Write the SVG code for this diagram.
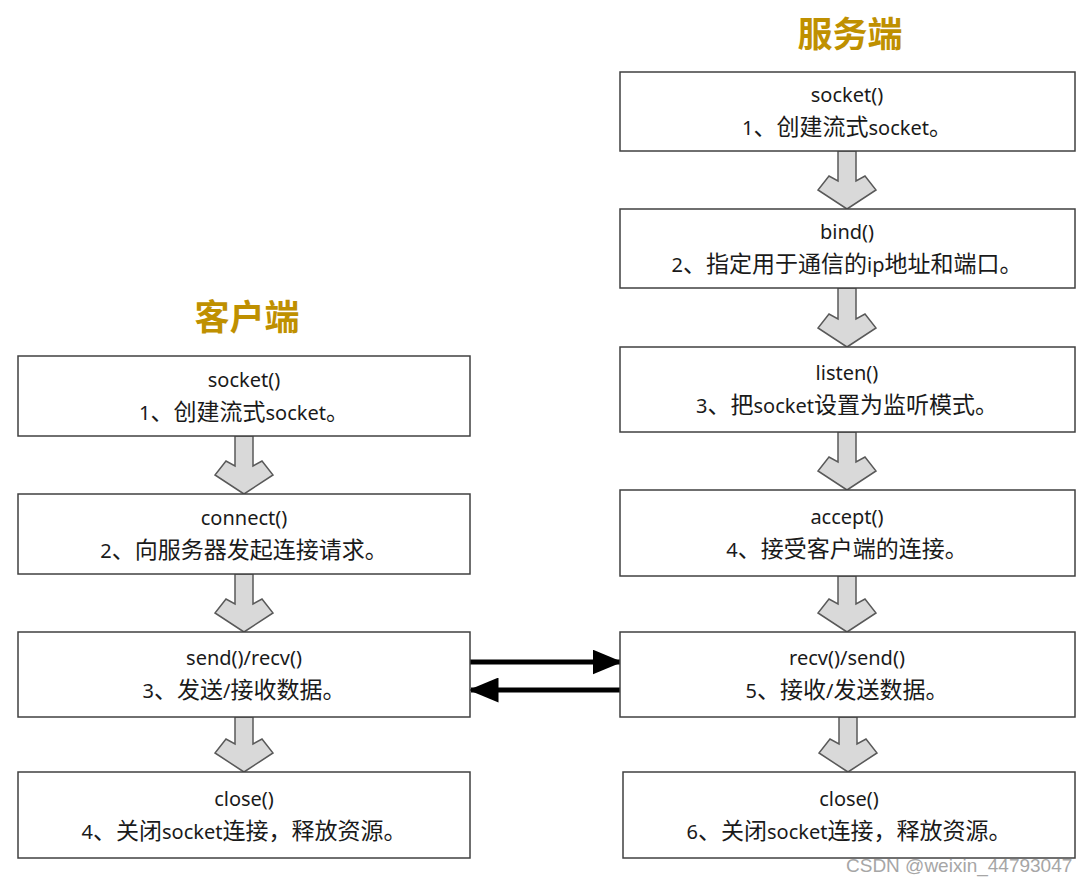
<svg xmlns="http://www.w3.org/2000/svg" width="1092" height="885" viewBox="0 0 1092 885">
<style>
.box{fill:#fff;stroke:#404040;stroke-width:1.5}
.t{font-family:"Noto Sans","Noto Sans CJK SC",sans-serif;font-size:20px;fill:#1a1a1a;text-anchor:middle}
.c{font-family:"Noto Sans CJK SC",sans-serif;font-size:23px}
.h{font-family:"Noto Sans CJK SC",sans-serif;font-size:35px;font-weight:bold;fill:#bf9000;text-anchor:middle}
.ba{fill:#d9d9d9;stroke:#595959;stroke-width:1.5;stroke-linejoin:miter}
.wm{font-family:"Liberation Sans",Arial,sans-serif;font-size:19px;fill:#a6a6a6}
</style>
<defs>
<marker id="ah" markerWidth="6" markerHeight="5" refX="5.5" refY="2.5" orient="auto" markerUnits="strokeWidth"><path d="M0,0 L6,2.5 L0,5 Z" fill="#000"/></marker>
</defs>
<rect width="1092" height="885" fill="#fff"/>
<text class="h" x="850" y="47">服务端</text>
<text class="h" x="247" y="330">客户端</text>

<g id="connectors">
<path class="ba" d="M235,436 L253,436 L253,466 L262,461 L273,475 L244,494 L215,475 L226,461 L235,466 Z"/>
<path class="ba" d="M235,574 L253,574 L253,604 L262,599 L273,613 L244,632 L215,613 L226,599 L235,604 Z"/>
<path class="ba" d="M235,717 L253,717 L253,744 L262,739 L273,753 L244,772 L215,753 L226,739 L235,744 Z"/>
<path class="ba" d="M838,151 L856,151 L856,181 L865,176 L876,190 L847,209 L818,190 L829,176 L838,181 Z"/>
<path class="ba" d="M838,288 L856,288 L856,319 L865,314 L876,328 L847,347 L818,328 L829,314 L838,319 Z"/>
<path class="ba" d="M838,432 L856,432 L856,462 L865,457 L876,471 L847,490 L818,471 L829,457 L838,462 Z"/>
<path class="ba" d="M838,576 L856,576 L856,604 L865,599 L876,613 L847,632 L818,613 L829,599 L838,604 Z"/>
<path class="ba" d="M839,717 L857,717 L857,744 L866,739 L877,753 L848,772 L819,753 L830,739 L839,744 Z"/>
<line x1="469" y1="662" x2="620" y2="662" stroke="#000" stroke-width="5" marker-end="url(#ah)"/>
<line x1="623" y1="690" x2="471" y2="690" stroke="#000" stroke-width="5" marker-end="url(#ah)"/>
</g>

<g id="s1"><rect class="box" x="620" y="72" width="455" height="79"/><text class="t" x="847" y="102">socket()</text><text class="t" x="847" y="135">1<tspan class="c">、创建流式</tspan>socket<tspan class="c">。</tspan></text></g>
<g id="s2"><rect class="box" x="620" y="209" width="455" height="79"/><text class="t" x="847" y="239">bind()</text><text class="t" x="847" y="272">2<tspan class="c">、指定用于通信的</tspan>ip<tspan class="c">地址和端口。</tspan></text></g>
<g id="s3"><rect class="box" x="620" y="347" width="455" height="85"/><text class="t" x="847" y="380">listen()</text><text class="t" x="847" y="413">3<tspan class="c">、把</tspan>socket<tspan class="c">设置为监听模式。</tspan></text></g>
<g id="s4"><rect class="box" x="620" y="490" width="455" height="86"/><text class="t" x="847" y="524">accept()</text><text class="t" x="847" y="557">4<tspan class="c">、接受客户端的连接。</tspan></text></g>
<g id="s5"><rect class="box" x="620" y="632" width="455" height="85"/><text class="t" x="847" y="665">recv()/send()</text><text class="t" x="847" y="698">5<tspan class="c">、接收</tspan>/<tspan class="c">发送数据。</tspan></text></g>
<g id="s6"><rect class="box" x="623" y="772" width="452" height="86"/><text class="t" x="849" y="806">close()</text><text class="t" x="849" y="839">6<tspan class="c">、关闭</tspan>socket<tspan class="c">连接，释放资源。</tspan></text></g>

<g id="c1"><rect class="box" x="18" y="356" width="452" height="80"/><text class="t" x="244" y="387">socket()</text><text class="t" x="244" y="420">1<tspan class="c">、创建流式</tspan>socket<tspan class="c">。</tspan></text></g>
<g id="c2"><rect class="box" x="18" y="494" width="452" height="80"/><text class="t" x="244" y="525">connect()</text><text class="t" x="244" y="558">2<tspan class="c">、向服务器发起连接请求。</tspan></text></g>
<g id="c3"><rect class="box" x="18" y="632" width="452" height="85"/><text class="t" x="244" y="665">send()/recv()</text><text class="t" x="244" y="698">3<tspan class="c">、发送</tspan>/<tspan class="c">接收数据。</tspan></text></g>
<g id="c4"><rect class="box" x="18" y="772" width="452" height="86"/><text class="t" x="244" y="806">close()</text><text class="t" x="244" y="839">4<tspan class="c">、关闭</tspan>socket<tspan class="c">连接，释放资源。</tspan></text></g>

<text class="wm" x="846" y="872">CSDN @weixin_44793047</text>
</svg>
